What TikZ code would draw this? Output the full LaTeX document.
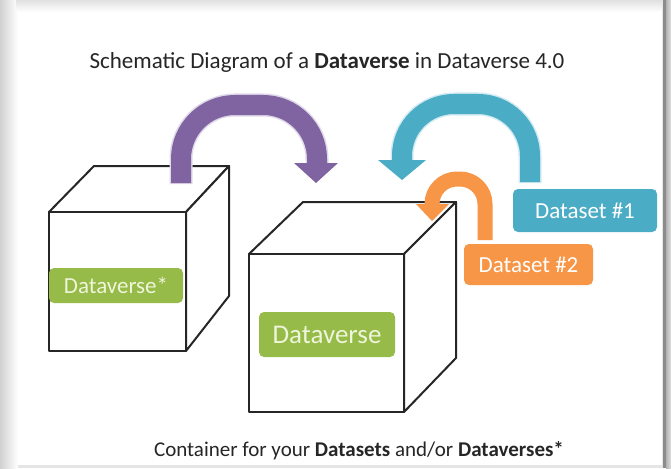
\documentclass[tikz,border=0pt]{standalone}
\usepackage{fontspec}
\setmainfont{Carlito}
\usetikzlibrary{positioning}

\definecolor{dvpurple}{RGB}{128,100,162}
\definecolor{dvblue}{RGB}{75,172,198}
\definecolor{dvorange}{RGB}{247,150,70}
\definecolor{dvgreen}{RGB}{150,187,72}
\definecolor{dvlabel}{RGB}{238,245,218}

\tikzset{
  cubeline/.style={draw=black!85, line width=2pt, fill=white, line join=round},
  tag/.style={rounded corners=5pt, text=white, inner sep=0pt, font=\fontsize{23}{26}\selectfont},
  uturn/.style={line width=#1, line cap=butt, rounded corners=54pt},
}

\begin{document}
\begin{tikzpicture}[x=1pt,y=-1pt]
  \useasboundingbox (0,0) rectangle (671,468);

  % page frame
  \fill[black!10] (0,0) rectangle (671,468);
  \shade[left color=black!18, right color=white] (0,0) rectangle (18,468);
  \shade[top color=black!12, bottom color=white] (16,0) rectangle (662,12);
  \fill[white] (18,12) rectangle (662,465);
  \fill[black!45] (663,0) rectangle (666,468);
  \shade[left color=black!30, right color=black!12] (666,0) rectangle (671,468);

  \node[font=\fontsize{23}{26}\selectfont, text=black!85] (title) at (327,62)
    {Schematic Diagram of a \textbf{Dataverse} in Dataverse 4.0};

  % left cube
  \draw[cubeline] (49,212) -- (94,166) -- (229,166) -- (186,212) -- cycle;
  \draw[cubeline] (186,212) -- (229,166) -- (229,296) -- (186,351) -- cycle;
  \draw[cubeline] (49,212) rectangle (186,351);

  % right cube
  \draw[cubeline] (249,254) -- (303,202) -- (456,202) -- (404,254) -- cycle;
  \draw[cubeline] (404,254) -- (456,202) -- (456,358) -- (404,412) -- cycle;
  \draw[cubeline] (249,254) rectangle (404,412);

  % purple arrow
  \draw[uturn=23pt, dvpurple!25] (181,184) -- (181,105) -- (317,105) -- (317,163);
  \draw[uturn=20pt, dvpurple] (181,183) -- (181,105) -- (317,105) -- (317,164);
  \fill[dvpurple] (294,163) -- (338,163) -- (316,183) -- cycle;

  % blue arrow
  \draw[uturn=23pt, dvblue!25, rounded corners=52pt] (530,183) -- (530,104) -- (402,104) -- (402,160);
  \draw[uturn=20pt, dvblue, rounded corners=52pt] (530,182) -- (530,104) -- (402,104) -- (402,161);
  \fill[dvblue] (378,160) -- (426,160) -- (402,180) -- cycle;

  % orange arrow
  \draw[uturn=15pt, dvorange, rounded corners=25pt] (485,240) -- (485,179) -- (432,179) -- (432,205);
  \fill[dvorange] (416,204) -- (449,204) -- (432,221) -- cycle;

  % labels
  \node[tag, fill=dvgreen, text=dvlabel, minimum width=134pt, minimum height=35pt] (dvsub) at (116,285.5) {Dataverse*};
  \node[tag, fill=dvgreen, text=dvlabel, minimum width=136pt, minimum height=45pt,
        font=\fontsize{27}{30}\selectfont] (dvmain) at (327,334.5) {Dataverse};
  \node[tag, fill=dvblue, minimum width=144pt, minimum height=43pt] (dsone) at (585,210.5) {Dataset \#1};
  \node[tag, fill=dvorange, minimum width=129pt, minimum height=41pt] (dstwo) at (528.5,264.5) {Dataset \#2};

  \node[font=\fontsize{21}{24}\selectfont, text=black!85] (caption) at (359,451)
    {Container for your \textbf{Datasets} and/or \textbf{Dataverses*}};
\end{tikzpicture}
\end{document}
